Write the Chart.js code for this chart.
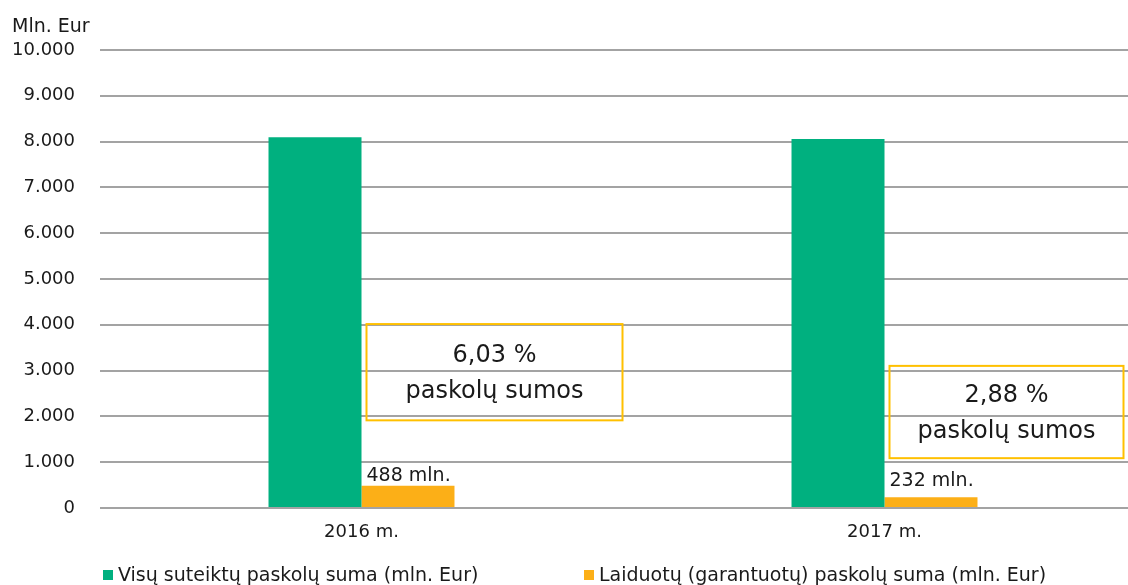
<!DOCTYPE html>
<html>
<head>
<meta charset="utf-8">
<script src="https://cdn.jsdelivr.net/npm/chart.js@4.4.0/dist/chart.umd.min.js"></script>
<style>
  html, body { margin: 0; padding: 0; background: #fff; overflow: hidden; }
  #chartBox { width: 1150px; height: 585px; }
</style>
</head>
<body>
<div id="chartBox"><canvas id="loanChart" width="1150" height="585"></canvas></div>
<script>
const years = ['2016 m.', '2017 m.'];
const seriesNames = ['Visų suteiktų paskolų suma (mln. Eur)', 'Laiduotų (garantuotų) paskolų suma (mln. Eur)'];
const totalLoans = [8093, 8056];
const guaranteedLoans = [488, 232];
const guaranteedLabels = ['488 mln.', '232 mln.'];
const shareText = ['6,03 %', '2,88 %'];
const shareSubText = 'paskolų sumos';
const yMin = 0;
const yMax = 10000;
const yStep = 1000;
const axisTitle = 'Mln. Eur';

const FONT = "'DejaVu Sans', Verdana, sans-serif";
const TEXT = '#1a1a1a';
const GREEN = '#00B07F';
const ORANGE = '#FCAF17';

// boxes around the percentage notes (y in axis units, x in px from the category centre)
const shareBoxes = [
  {from: 5, to: 261, top: 4016, bottom: 1914},
  {from: 5, to: 239, top: 3103, bottom: 1088}
];
const labelLift = [5, 11];

function thousands(v) {
  return String(v).replace(/\B(?=(\d{3})+(?!\d))/g, '.');
}

const extras = {
  id: 'extras',
  afterDatasetsDraw(chart) {
    const ctx = chart.ctx;
    const xs = chart.scales.x;
    const ys = chart.scales.y;
    ctx.save();
    ctx.fillStyle = TEXT;

    // labels over the orange bars
    ctx.font = '19px ' + FONT;
    ctx.textAlign = 'left';
    ctx.textBaseline = 'alphabetic';
    chart.getDatasetMeta(1).data.forEach((bar, i) => {
      ctx.fillText(guaranteedLabels[i], bar.x - bar.width / 2 + 5, bar.y - labelLift[i]);
    });

    // percentage boxes
    shareBoxes.forEach((b, i) => {
      const cx = xs.getPixelForValue(i);
      const left = cx + b.from;
      const right = cx + b.to;
      const top = ys.getPixelForValue(b.top);
      const bottom = ys.getPixelForValue(b.bottom);
      ctx.strokeStyle = '#FFC000';
      ctx.lineWidth = 2;
      ctx.strokeRect(left, top, right - left, bottom - top);
      const mx = (left + right) / 2;
      const my = (top + bottom) / 2;
      ctx.font = '24px ' + FONT;
      ctx.textAlign = 'center';
      ctx.fillText(shareText[i], mx, my - 10);
      ctx.fillText(shareSubText, mx, my + 26);
    });
    ctx.restore();
  },
  afterDraw(chart) {
    const ctx = chart.ctx;
    const area = chart.chartArea;
    ctx.save();
    ctx.font = '19px ' + FONT;
    ctx.fillStyle = TEXT;
    ctx.textAlign = 'left';
    ctx.textBaseline = 'alphabetic';
    ctx.fillText(axisTitle, 12, 32);

    // legend row along the bottom
    const starts = [area.left + 3, area.left + 484];
    chart.data.datasets.forEach((ds, i) => {
      ctx.fillStyle = ds.backgroundColor;
      ctx.fillRect(starts[i], 570, 10, 10);
      ctx.fillStyle = TEXT;
      ctx.fillText(ds.label, starts[i] + 15, 581);
    });
    ctx.restore();
  }
};

Chart.defaults.font.family = FONT;
Chart.defaults.font.size = 18;
Chart.defaults.color = TEXT;

new Chart(document.getElementById('loanChart'), {
  type: 'bar',
  data: {
    labels: years,
    datasets: [
      {label: seriesNames[0], data: totalLoans, backgroundColor: GREEN},
      {label: seriesNames[1], data: guaranteedLoans, backgroundColor: ORANGE}
    ]
  },
  options: {
    responsive: false,
    animation: false,
    devicePixelRatio: 1,
    layout: {padding: {top: 50, right: 4, bottom: 27.4, left: 0}},
    datasets: {
      bar: {barPercentage: 1, categoryPercentage: 0.3556}
    },
    scales: {
      x: {
        grid: {display: false, drawTicks: false},
        border: {display: false},
        ticks: {padding: 14, font: {size: 18}}
      },
      y: {
        min: yMin,
        max: yMax,
        afterFit(scale) { scale.width = 100; },
        grid: {color: '#a3a3a3', lineWidth: 2, drawTicks: false},
        border: {display: false},
        ticks: {
          stepSize: yStep,
          padding: 25,
          font: {size: 18},
          callback: (v) => thousands(v)
        }
      }
    },
    plugins: {
      legend: {display: false},
      tooltip: {enabled: false}
    }
  },
  plugins: [extras]
});
</script>
</body>
</html>
